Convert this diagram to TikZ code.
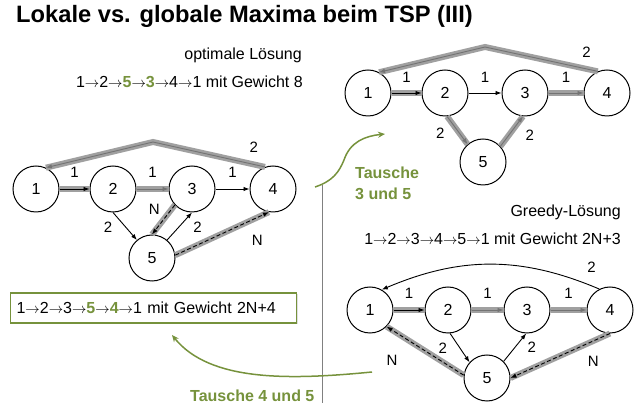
\documentclass[tikz,border=0pt]{standalone}
\usepackage{fontspec}
\setmainfont{Liberation Sans}
\usetikzlibrary{arrows.meta,shadows}
\definecolor{swapgreen}{RGB}{118,146,60}
\definecolor{tourgray}{RGB}{160,160,160}
\definecolor{tipgray}{RGB}{115,115,115}
\newcommand{\nx}{{\fontsize{15.6}{15.6}\selectfont\(\rightarrow\)}}
\newcommand{\swp}[1]{\textcolor{swapgreen}{\textbf{#1}}}

\begin{document}
\begin{tikzpicture}[x=1pt,y=1pt,
		city/.style={draw,circle,fill=white,line width=1pt,minimum size=46pt,inner sep=0pt,font=\fontsize{16}{16}\selectfont},
		wlabel/.style={inner sep=0pt,font=\fontsize{15}{15}\selectfont},
		caption/.style={inner sep=0pt,font=\fontsize{16}{19}\selectfont},
		hop/.style={line width=0.9pt,-{Latex[length=6pt,width=4.5pt]}},
		grayhop/.style={hop,draw=tipgray},
		nhop/.style={hop,dash pattern=on 4pt off 2.5pt},
		tour/.style={preaction={draw=tourgray,solid,line width=6pt,-}},
		swaparrow/.style={draw=swapgreen,line width=1.5pt,-{Stealth[length=7pt,width=6pt]}},
		swaptext/.style={inner sep=0pt,text=swapgreen,font=\bfseries\fontsize{16}{21}\selectfont}]
	\useasboundingbox (0,0) rectangle (637,412);

	% title and captions
	\node[anchor=base west,inner sep=0pt,font=\bfseries\fontsize{23.7}{28}\selectfont] (title) at (16,389) {Lokale vs. globale Maxima beim TSP (III)};
	\node[caption,anchor=base east] (optlbl) at (302,352) {optimale Lösung};
	\node[caption,anchor=base east] (optpath) at (303,324) {1\nx2\nx\swp{5}\nx\swp{3}\nx4\nx1 mit Gewicht 8};
	\node[caption,anchor=base east] (greedylbl) at (621,195) {Greedy-Lösung};
	\node[caption,anchor=base east] (greedypath) at (621,167) {1\nx2\nx3\nx4\nx5\nx1 mit Gewicht 2N+3};
	\node[caption,anchor=west,draw=swapgreen,line width=1.2pt,fill=white,inner xsep=6pt,
		text width=274pt,align=left,minimum height=30pt,
		drop shadow={opacity=0.25,shadow xshift=1.5pt,shadow yshift=-1.5pt}] (badbox) at (10,104)
		{1\nx2\nx3\nx\swp{5}\nx\swp{4}\nx1 mit Gewicht 2N+4};

	% separator
	\draw[gray,line width=0.8pt] (322,227) -- (322,9);

	% local maximum
	\node[city] (a1) at (36,223) {1};
	\node[city] (a2) at (113,223) {2};
	\node[city] (a3) at (192,223) {3};
	\node[city] (a4) at (273,223) {4};
	\node[city] (a5) at (152,154) {5};
	\coordinate (apeak) at (153,270);
	\draw[hop,tour] (a1) -- node[wlabel,above=11pt]{1} (a2);
	\draw[grayhop,tour] (a2) -- node[wlabel,above=11pt]{1} (a3);
	\draw[hop] (a3) -- node[wlabel,above=11pt]{1} (a4);
	\draw[hop] (a2.270) -- node[wlabel,xshift=-17pt,yshift=-1pt]{2} (a5.130);
	\draw[hop] (a5.50) -- node[wlabel,xshift=18pt,yshift=-1pt]{2} (a3.270);
	\draw[nhop,tour] (a3.223) -- node[wlabel,xshift=-9pt,yshift=10pt]{N} (a5.90);
	\draw[nhop,tour] (a5.7) -- node[wlabel,pos=0.8,xshift=7pt,yshift=-20pt]{N} (a4.260);
	\draw[grayhop,tour] (a4.110) -- node[wlabel,pos=0.1,yshift=17pt]{2} (apeak) -- (a1.65);

	% optimum
	\node[city] (b1) at (368,319) {1};
	\node[city] (b2) at (445,319) {2};
	\node[city] (b3) at (525,319) {3};
	\node[city] (b4) at (607,319) {4};
	\node[city] (b5) at (483,250) {5};
	\coordinate (bpeak) at (485,365);
	\draw[hop,tour] (b1) -- node[wlabel,above=10pt]{1} (b2);
	\draw[hop] (b2) -- node[wlabel,above=10pt]{1} (b3);
	\draw[grayhop,tour] (b3) -- node[wlabel,above=10pt]{1} (b4);
	\draw[grayhop,tour] (b2.275) -- node[wlabel,xshift=-17pt,yshift=-3pt]{2} (b5.131);
	\draw[grayhop,tour] (b5.42) -- node[wlabel,xshift=18pt,yshift=-4pt]{2} (b3.265);
	\draw[grayhop,tour] (b4.113) -- node[wlabel,pos=0.1,yshift=17pt]{2} (bpeak) -- (b1.62);

	% greedy tour
	\node[city] (c1) at (370,102) {1};
	\node[city] (c2) at (448,102) {2};
	\node[city] (c3) at (527,102) {3};
	\node[city] (c4) at (610,102) {4};
	\node[city] (c5) at (487,34) {5};
	\draw[hop,tour] (c1) -- node[wlabel,above=11pt]{1} (c2);
	\draw[grayhop,tour] (c2) -- node[wlabel,above=11pt]{1} (c3);
	\draw[grayhop,tour] (c3) -- node[wlabel,above=11pt]{1} (c4);
	\draw[hop] (c2.275) -- node[wlabel,xshift=-17pt]{2} (c5.138);
	\draw[hop] (c5.45) -- node[wlabel,xshift=17pt]{2} (c3.268);
	\draw[nhop,tour] (c5.173) -- node[wlabel,xshift=-33pt,yshift=-9pt]{N} (c1.315);
	\draw[nhop,tour] (c4.270) -- node[wlabel,xshift=33pt,yshift=-6pt]{N} (c5.0);
	\draw[hop] (c4.117) to[out=157,in=23] node[wlabel,pos=0.02,xshift=-3pt,yshift=20pt]{2} (c1.60);

	% swaps
	\coordinate (s35from) at (315,225);
	\coordinate (s35to) at (385,278);
	\draw[swaparrow] (s35from) .. controls (333,231) and (339,240) .. (344,252)
		.. controls (350,270) and (365,276) .. (s35to);
	\node[swaptext,anchor=north west,align=left] (swap35) at (355,245) {Tausche\\3 und 5};
	\coordinate (s45from) at (372,40);
	\coordinate (s45to) at (172,77);
	\draw[swaparrow] (s45from) .. controls (290,32) and (210,30) .. (s45to);
	\node[swaptext,anchor=base west] (swap45) at (190,10) {Tausche 4 und 5};
\end{tikzpicture}
\end{document}
